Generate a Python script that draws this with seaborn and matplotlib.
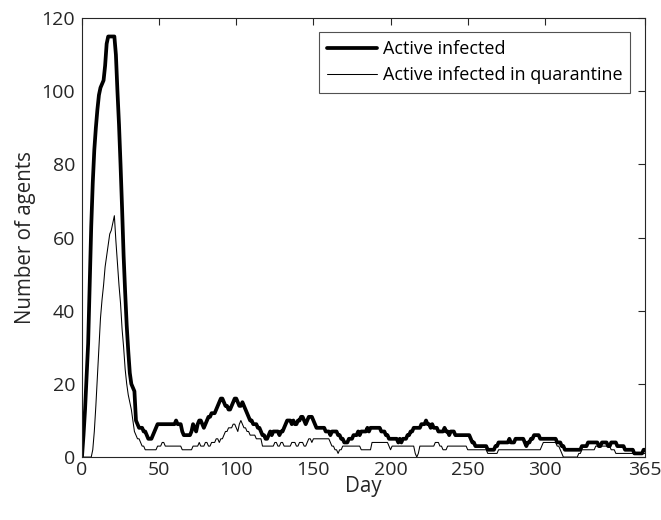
import numpy as np
import pandas as pd
import matplotlib
matplotlib.use("Agg")
import matplotlib.pyplot as plt
import seaborn as sns

# ---- data (one value per day 0..365) ----
active = [
    0, 6, 13, 22, 31, 47, 63, 75, 84, 90, 95, 99, 101, 102, 103, 107, 113, 115, 115, 115,
    115, 115, 110, 100, 91, 80, 68, 55, 45, 36, 29, 23, 20, 19, 18, 10, 9, 8, 8, 8,
    7, 7, 6, 5, 5, 5, 6, 7, 8, 9, 9, 9, 9, 9, 9, 9, 9, 9, 9, 9,
    9, 10, 9, 9, 9, 7, 6, 6, 6, 6, 6, 7, 9, 8, 7, 9, 10, 10, 9, 8,
    9, 10, 11, 11, 12, 12, 12, 13, 14, 15, 16, 16, 15, 14, 14, 13, 13, 14, 15, 16,
    16, 15, 14, 14, 15, 14, 13, 12, 11, 10, 10, 9, 9, 9, 8, 8, 7, 6, 6, 5,
    5, 6, 7, 6, 7, 7, 7, 7, 6, 7, 7, 8, 9, 10, 10, 10, 9, 10, 9, 9,
    10, 10, 11, 11, 10, 9, 10, 11, 11, 11, 10, 9, 8, 8, 8, 8, 8, 8, 7, 7,
    7, 6, 7, 7, 7, 7, 6, 6, 5, 5, 4, 4, 4, 5, 5, 5, 6, 6, 6, 7,
    6, 7, 7, 7, 7, 8, 7, 8, 8, 8, 8, 8, 8, 8, 7, 7, 7, 6, 6, 5,
    5, 5, 5, 5, 5, 4, 5, 4, 5, 5, 5, 6, 6, 7, 7, 8, 8, 8, 8, 8,
    9, 9, 9, 10, 9, 9, 8, 9, 8, 8, 8, 7, 7, 7, 7, 8, 7, 7, 6, 7,
    7, 7, 6, 6, 6, 6, 6, 6, 6, 6, 6, 6, 5, 4, 4, 3, 3, 3, 3, 3,
    3, 3, 3, 2, 2, 2, 2, 2, 3, 3, 4, 4, 4, 4, 4, 4, 4, 5, 4, 4,
    4, 5, 5, 5, 5, 5, 5, 4, 3, 4, 4, 5, 5, 6, 6, 6, 6, 5, 5, 5,
    5, 5, 5, 5, 5, 5, 5, 5, 4, 4, 4, 3, 3, 2, 2, 2, 2, 2, 2, 2,
    2, 2, 2, 2, 3, 3, 3, 3, 4, 4, 4, 4, 4, 4, 4, 3, 3, 4, 4, 4,
    4, 3, 3, 4, 4, 4, 4, 3, 3, 3, 3, 3, 2, 2, 2, 2, 2, 2, 1, 1,
    1, 1, 1, 1, 2, 2,
]
quarantine = [
    0, 0, 0, 0, 0, 0, 0, 2, 7, 14, 22, 30, 38, 43, 47, 52, 55, 58, 61, 62,
    64, 66, 59, 53, 47, 42, 35, 30, 24, 20, 17, 15, 13, 10, 7, 6, 5, 5, 4, 3,
    3, 2, 2, 2, 2, 2, 2, 2, 2, 3, 3, 3, 4, 4, 3, 3, 3, 3, 3, 3,
    3, 3, 3, 3, 3, 2, 2, 2, 2, 2, 2, 2, 3, 3, 3, 3, 4, 3, 3, 3,
    4, 4, 3, 3, 4, 4, 4, 5, 5, 4, 5, 5, 6, 7, 7, 8, 8, 8, 9, 9,
    8, 7, 9, 10, 9, 8, 8, 7, 7, 6, 6, 6, 6, 5, 5, 5, 5, 3, 3, 3,
    3, 3, 3, 3, 3, 4, 4, 3, 3, 4, 4, 3, 3, 3, 3, 3, 4, 4, 4, 3,
    3, 4, 4, 4, 3, 3, 4, 5, 5, 4, 5, 5, 5, 5, 5, 5, 5, 5, 5, 5,
    5, 4, 3, 3, 2, 2, 1, 2, 2, 3, 3, 3, 3, 3, 3, 3, 3, 3, 3, 3,
    3, 2, 2, 2, 2, 2, 2, 2, 4, 4, 4, 4, 4, 4, 4, 4, 4, 4, 4, 3,
    2, 3, 3, 3, 3, 3, 3, 3, 3, 3, 3, 3, 3, 3, 3, 3, 1, 0, 1, 3,
    3, 3, 3, 3, 3, 3, 3, 3, 3, 4, 4, 4, 3, 3, 2, 2, 2, 3, 3, 3,
    3, 3, 3, 3, 3, 3, 3, 3, 3, 3, 2, 2, 2, 2, 2, 2, 2, 2, 2, 2,
    2, 2, 2, 1, 1, 1, 1, 1, 1, 1, 2, 2, 2, 2, 2, 2, 2, 2, 2, 2,
    2, 2, 2, 2, 2, 2, 2, 2, 2, 2, 2, 2, 2, 2, 2, 2, 2, 2, 3, 4,
    4, 4, 4, 4, 4, 4, 4, 4, 3, 3, 2, 1, 0, 0, 0, 0, 0, 0, 0, 0,
    0, 0, 1, 1, 2, 2, 2, 2, 2, 2, 2, 2, 2, 3, 3, 3, 3, 3, 3, 3,
    3, 3, 3, 2, 2, 2, 1, 1, 1, 1, 1, 1, 1, 1, 1, 1, 1, 1, 1, 1,
    1, 1, 1, 1, 1, 1,
]
days = list(range(len(active)))
series_names = ["Active infected", "Active infected in quarantine"]
x_ticks = [0, 50, 100, 150, 200, 250, 300, 365]
y_ticks = [0, 20, 40, 60, 80, 100, 120]

# ---- styling ----
sns.set_style("white")
plt.rcParams["font.family"] = ["Open Sans", "DejaVu Sans"]
ink = "#262626"

fig = plt.figure(figsize=(6.61, 5.20), dpi=100)
ax = fig.add_axes([0.124, 0.121, 0.852, 0.844])

df = pd.DataFrame({
    "Day": days * 2,
    "value": active + quarantine,
    "series": [series_names[0]] * len(days) + [series_names[1]] * len(days),
})

sns.lineplot(data=df[df.series == series_names[0]], x="Day", y="value",
             color="black", linewidth=2.7, ax=ax, label=series_names[0])
sns.lineplot(data=df[df.series == series_names[1]], x="Day", y="value",
             color="black", linewidth=0.75, ax=ax, label=series_names[1])

ax.set_xlim(0, 365)
ax.set_ylim(0, 120)
ax.set_xticks(x_ticks)
ax.set_yticks(y_ticks)
ax.set_xlabel("Day", fontsize=14.8, color=ink, labelpad=-2.5)
ax.set_ylabel("Number of agents", fontsize=14.8, color=ink, labelpad=4)

for sp in ax.spines.values():
    sp.set_visible(True)
    sp.set_color(ink)
    sp.set_linewidth(0.8)
ax.tick_params(axis="both", which="both", direction="in", length=5, width=0.8,
               colors=ink, labelsize=14, top=True, right=True,
               labeltop=False, labelright=False)
ax.tick_params(axis="x", pad=3)
ax.tick_params(axis="y", pad=5)

leg = ax.legend(loc="upper right", bbox_to_anchor=(0.974, 0.968), fontsize=13,
                frameon=True, fancybox=False, shadow=False, handlelength=2.8,
                handletextpad=0.3, borderpad=0.45, labelspacing=0.45,
                borderaxespad=0.0)
leg.get_frame().set_edgecolor(ink)
leg.get_frame().set_linewidth(0.8)
for t in leg.get_texts():
    t.set_color("black")

fig.savefig("out.png", dpi=100, facecolor="white")
